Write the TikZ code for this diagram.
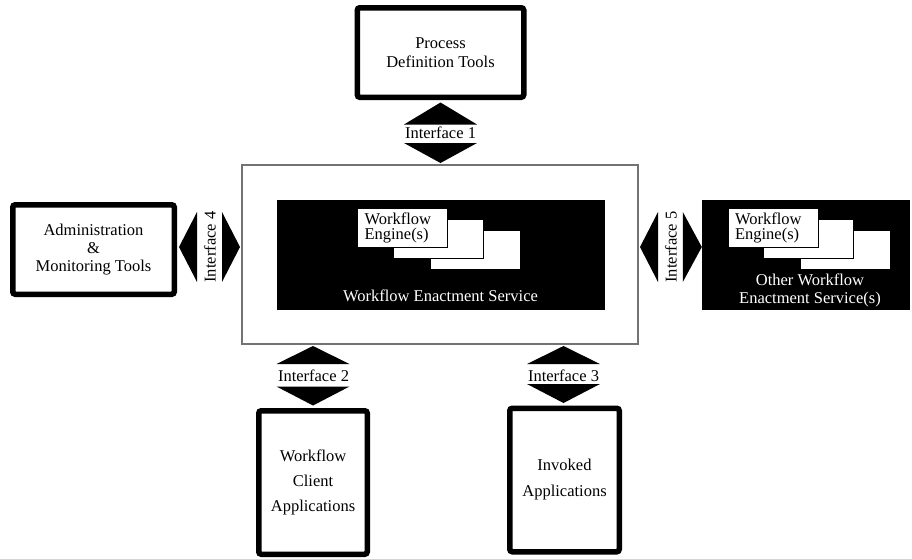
\documentclass[tikz,border=0pt]{standalone}
\usepackage{fontspec}
\setmainfont{Liberation Serif}
\usetikzlibrary{calc}
\newcommand{\fsz}[1]{\fontsize{16.5}{#1}\selectfont}
\begin{document}
\begin{tikzpicture}[x=1pt,y=-1pt,
  thickbox/.style={draw=black, line width=5.5pt, rounded corners=2.5pt, fill=white,
    inner sep=0pt, align=center},
  outerbox/.style={draw=black!55, line width=2pt, fill=white, inner sep=0pt},
  blackbox/.style={draw=black, fill=black, inner sep=0pt},
  engbox/.style={draw=black, line width=0.8pt, fill=white, inner sep=0pt,
    minimum width=90pt, minimum height=39pt},
  iflabel/.style={inner sep=0pt, font=\fsz{19}},
  tri/.style={fill=black}
]
\useasboundingbox (0,0) rectangle (912,558);
\fill[white] (0,0) rectangle (912,558);

% boxes
\node[thickbox, minimum width=166.5pt, minimum height=89.5pt, font=\fsz{19}]
  (pdt) at (440.5,52.5) {Process\\Definition Tools};
\node[thickbox, minimum width=161.5pt, minimum height=89.5pt, font=\fsz{18}]
  (adm) at (93.5,249.5) {Administration\\\&\\Monitoring Tools};
\node[thickbox, minimum width=108.5pt, minimum height=143.5pt, font=\fsz{25}]
  (wca) at (313,482.5) {Workflow\\Client\\Applications};
\node[thickbox, minimum width=109.5pt, minimum height=143.5pt, font=\fsz{26}]
  (inv) at (564.5,480) {Invoked\\Applications};

\node[outerbox, minimum width=396pt, minimum height=179pt] (wes) at (440,254.5) {};
\node[blackbox, minimum width=327pt, minimum height=109pt] (wesin) at (440.5,254.5) {};
\node[engbox] (e3) at (475,249.5) {};
\node[engbox] (e2) at (438,238.5) {};
\node[engbox, align=left, text width=76pt, inner xsep=7pt, font=\fsz{15}]
  (e1) at (402.5,227.5) {Workflow\\Engine(s)};
\node[anchor=base, text=white, inner sep=0pt, font=\fsz{19}] (wesl) at (440.5,301)
  {Workflow Enactment Service};

\node[blackbox, minimum width=207pt, minimum height=109pt] (owes) at (805.5,254.5) {};
\node[engbox] (f3) at (845,249.5) {};
\node[engbox] (f2) at (808,238.5) {};
\node[engbox, align=left, text width=76pt, inner xsep=7pt, font=\fsz{15}]
  (f1) at (773,227.5) {Workflow\\Engine(s)};
\node[text=white, align=center, inner sep=0pt, font=\fsz{18}] (owesl) at (810,290)
  {Other Workflow\\Enactment Service(s)};

% interface labels
\node[iflabel] (if1) at (440.5,133) {Interface 1};
\node[iflabel] (if2) at (313.5,376) {Interface 2};
\node[iflabel] (if3) at (563.5,376) {Interface 3};
\node[iflabel, rotate=90] (if4) at (210,247) {Interface 4};
\node[iflabel, rotate=90] (if5) at (671,247) {Interface 5};

% interface 1
\fill[tri] ($(pdt.south)+(0,2.5)$) -- ++(-36.5,22) -- ++(73,0) -- cycle;
\fill[tri] ($(wes.north)+(0.5,-1)$) -- ++(-36.5,-20) -- ++(73,0) -- cycle;
% interface 2
\fill[tri] ($(wes.south)+(-127,1)$) -- ++(-36.5,18) -- ++(73,0) -- cycle;
\fill[tri] ($(wca.north)+(0,-2.5)$) -- ++(-36.5,-19) -- ++(73,0) -- cycle;
% interface 3
\fill[tri] ($(wes.south)+(123.5,1)$) -- ++(-36.5,18) -- ++(73,0) -- cycle;
\fill[tri] ($(inv.north)+(-1,0)$) ++(0,-2.5) -- ++(-36.5,-19) -- ++(73,0) -- cycle;
% interface 4
\fill[tri] ($(adm.east)+(2,-2.5)$) -- ++(18,-35) -- ++(0,70) -- cycle;
\fill[tri] ($(wes.west)+(-1,-7.5)$) -- ++(-18,-35) -- ++(0,70) -- cycle;
% interface 5
\fill[tri] ($(wes.east)+(1,-7.5)$) -- ++(18,-35) -- ++(0,70) -- cycle;
\fill[tri] ($(owes.west)+(0,-7.5)$) -- ++(-19,-35) -- ++(0,70) -- cycle;
\end{tikzpicture}
\end{document}
